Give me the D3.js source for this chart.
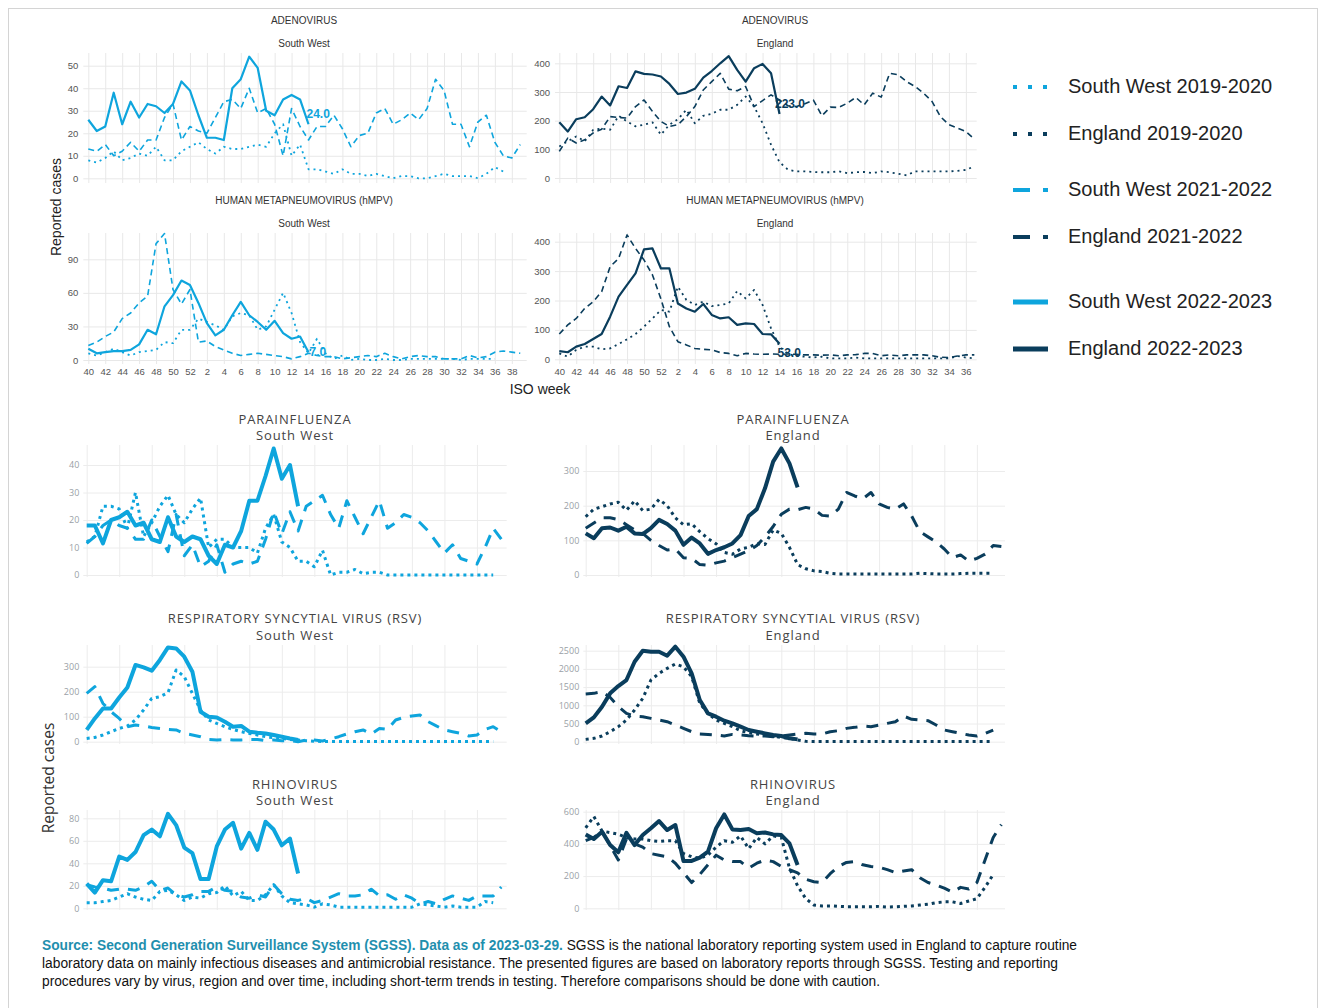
<!DOCTYPE html>
<html>
<head>
<meta charset="utf-8">
<script src="https://cdn.jsdelivr.net/npm/d3@7"></script>
<style>
  body { margin: 0; background: #fff; }
  svg { display: block; }
</style>
</head>
<body>
<div id="chart"></div>
<script>
// ISO weeks, season runs from week 40 to week 39
const isoWeeks = [40,41,42,43,44,45,46,47,48,49,50,51,52,1,2,3,4,5,6,7,8,9,10,11,12,13,14,15,16,17,18,19,20,21,22,23,24,25,26,27,28,29,30,31,32,33,34,35,36,37,38,39];

const legendLabels = ["South West 2019-2020", "England 2019-2020", "South West 2021-2022", "England 2021-2022", "South West 2022-2023", "England 2022-2023"];

// adenovirus
const adenoSW22 = [26,21,23,38,24,34,27,33,32,29,33,43,39,28,18,18,17,40,44,54,49,30,28,35,37,35,24];
const adenoSW21 = [13,12,15,10,12,16,12,17,17,27,33,17,23,21,20,27,34,35,31,40,29,31,24,10,31,23,17,23,23,28,22,14,19,20,29,31,24,26,29,26,31,44,39,24,24,14,25,28,16,10,9,15];
const adenoSW19 = [8,7,9,12,8,9,11,10,14,8,8,12,14,16,13,11,14,13,13,14,15,14,20,24,10,15,4,4,3,2,4,2,2,1,2,1,0,1,1,0,0,1,2,1,1,1,0,2,5,3];
const adenoEN22 = [194,162,205,212,240,284,253,320,314,372,363,361,354,328,293,298,311,350,373,400,425,377,336,383,398,365,223];
const adenoEN21 = [93,139,122,133,157,170,214,211,209,249,272,232,197,180,186,214,249,307,336,365,310,304,319,249,270,290,272,252,249,259,272,217,247,246,261,281,255,296,282,365,360,336,319,296,267,214,186,174,162,136];
const adenoEN19 = [110,128,145,128,168,172,168,217,197,180,186,194,151,186,205,238,191,217,224,238,238,255,284,249,191,116,55,29,23,23,21,20,20,23,17,20,21,17,23,20,15,9,23,23,23,23,23,25,28,41];

// human metapneumovirus
const hmpvSW22 = [10,6,7,8,8,9,14,27,23,48,58,71,67,51,33,22,27,40,52,40,34,27,35,24,19,21,7];
const hmpvSW21 = [13,16,21,25,37,42,51,57,104,113,63,50,63,16,17,12,9,6,4,5,6,5,4,3,1,3,6,4,3,3,1,2,3,4,3,6,3,1,3,4,3,3,1,1,1,4,2,3,7,8,7,6];
const hmpvSW19 = [6,4,7,10,7,4,7,8,9,16,15,27,27,37,34,31,27,39,42,40,27,30,45,60,42,16,6,19,6,1,4,0,1,0,0,1,0,0,1,1,1,1,1,1,0,1,1,1,1];
const hmpvEN22 = [28,24,43,52,69,86,145,213,253,292,374,377,309,309,190,173,162,188,151,139,143,117,122,120,86,85,53];
const hmpvEN21 = [86,117,139,173,196,230,315,343,423,377,338,287,205,111,60,49,37,34,32,23,20,12,20,18,17,18,17,18,17,15,15,14,15,12,15,16,20,20,12,15,12,15,15,15,12,7,6,11,15,15];
const hmpvEN19 = [20,9,32,43,43,34,37,52,68,86,111,139,168,162,247,202,185,196,181,185,190,232,207,236,185,105,43,18,11,9,6,9,3,3,3,6,3,3,3,3,3,3,3,3,3,3,3,11,6,3];

// parainfluenza
const paraSW22 = [18,18,11.5,20,21,23,18,19,13,12,21,14,12,14,13,7,4,11,10,16,27,27,36,46,35,40,25];
const paraSW21 = [11.5,14,18,20,18,17,13,13,20,14,8.5,22,7,11,3,5,11,1,4,5,4,5,13,23,15,23,16,25,27,29,22,17,27,21,15,21,27,17,19,22,21,19,16,12,8,11,6,5,4,10,17,13];
const paraSW19 = [12,14,25,25,24,17,30,14,19,25,29,22,19,24,28,10,13,13,10,10,10,8,17,22,12,10,5,5,3,9,0,1,1,2,0.5,1,1,0,0,0,0,0,0,0,0,0,0,0,0,0,0];
const paraEN22 = [120,106,135,137,128,139,120,118,135,159,147,128,87,108,91,61,72,80,91,115,170,190,250,327,365,322,253];
const paraEN21 = [135,150,165,165,160,145,130,120,100,85,72,75,50,48,30,28,35,40,50,60,70,85,110,140,175,190,188,195,190,172,170,190,238,228,220,238,205,195,190,205,170,125,110,95,75,50,58,40,48,60,85,82];
const paraEN19 = [168,190,197,205,210,187,214,186,190,218,200,165,145,148,125,105,90,65,60,75,80,90,88,130,120,80,30,18,12,10,5,3,3,3,3,3,3,3,3,3,3,5,4,3,3,3,4,5,5,5,5];

// respiratory syncytial virus
const rsvSW22 = [47,93,133,133,177,217,307,297,284,327,377,373,340,280,120,100,97,80,60,63,40,36,33,27,20,13,7];
const rsvSW21 = [193,220,153,120,93,60,67,63,57,53,49,47,33,27,20,9,7,9,7,7,9,9,4,7,4,4,0,7,7,3,11,20,31,40,47,31,53,49,87,97,103,107,80,63,47,40,33,23,27,49,60,40];
const rsvSW19 = [13,17,27,40,53,63,87,127,173,180,196,287,260,193,127,87,73,60,49,40,33,27,20,16,13,9,7,4,2,1,1,1,1,1,1,1,1,1,1,1,1,1,1,1,1,1,1,1,1,1,1];
const rsvEN22 = [504,668,962,1328,1529,1694,2198,2500,2473,2473,2363,2610,2335,1877,1145,778,687,577,504,412,321,275,229,183,156,92,64];
const rsvEN21 = [1310,1328,1374,1218,962,778,705,687,641,595,550,458,366,275,211,201,183,156,201,183,165,156,156,137,156,183,211,229,211,211,275,302,366,394,430,412,458,504,550,705,614,595,577,458,321,275,229,183,156,229,321];
const rsvEN19 = [64,92,156,275,412,595,870,1190,1694,1877,2015,2134,2060,1786,1053,778,595,504,412,302,247,211,183,156,119,92,46,10,5,5,5,5,5,5,5,5,5,5,5,5,5,5,5,5,5,5,5,5,5,5,5];

// rhinovirus
const rhinoSW22 = [22,14,25,24,46,43,50,65,70,64,84,74,54,49,26,26,55,70,76,53,67,52,77,70,56,62,31];
const rhinoSW21 = [21,19,18,16,17,17,16,19,24,16,18,12,10,12,15,15,19,16,15,10,9,12,10,21,13,8,7,9,5,7,10,13,11,11,12,17,11,12,8,12,9,4,6,4,8,11,9,7,11,11,11,19];
const rhinoSW19 = [5,5,6,7,10,13,10,8,7,15,16,12,7,10,9,13,14,20,11,15,7,7,12,21,11,5,4,3,1,4,3,1,1,1,1,1,1,1,1,1,1,4,3,2,1,2,1,1,1,6,5];
const rhinoEN22 = [459,430,476,393,348,469,393,455,497,542,486,517,294,294,315,352,497,583,490,486,492,466,471,459,455,403,269];
const rhinoEN21 = [420,440,480,390,300,430,400,380,340,330,320,280,220,160,210,270,330,300,290,290,250,280,300,290,260,240,220,180,165,160,215,260,285,290,270,260,255,240,222,232,240,190,160,145,125,100,130,120,160,300,440,520];
const rhinoEN19 = [500,570,480,470,460,440,430,430,420,415,420,420,340,320,310,330,380,420,410,450,370,440,400,450,440,250,140,60,20,15,15,12,10,10,10,10,12,8,10,12,15,20,25,35,40,40,30,45,60,130,210];

const swColor = "#0ea5dd";
const enColor = "#0a3d5c";

const width = 1325, height = 1008;
const svg = d3.select("#chart").append("svg")
    .attr("width", width)
    .attr("height", height);

svg.append("rect")
    .attr("x", 8.5).attr("y", 8.5)
    .attr("width", 1309).attr("height", 1010)
    .attr("fill", "none")
    .attr("stroke", "#d4d4d4");

// two visual styles: the ggplot export on top, the plotly export below
const ggStyle = {
    font: "'Liberation Sans', Arial, sans-serif",
    grid: "#e8e8e8", tickColor: "#555", tickSize: 9.5, yPad: 5,
    titleSize: 10, titleColor: "#333", titleSpacing: 0,
    solid: { w: 2.2, dash: null },
    dash: { w: 1.6, dash: "6,4" },
    dot: { w: 1.8, dash: "2,4" }
};
const plyStyle = {
    font: "'Open Sans', 'DejaVu Sans', sans-serif",
    grid: "#ececec", tickColor: "#9a9fa6", tickSize: 9, yPad: 4,
    titleSize: 13, titleColor: "#444", titleSpacing: 0.9,
    solid: { w: 4, dash: null },
    dash: { w: 3, dash: "12,9" },
    dot: { w: 3, dash: "3,4" }
};

function drawPanel(p, st) {
    let g = svg.append("g");
    let x = d3.scaleLinear()
        .domain([0, isoWeeks.length - 1])
        .range([p.x0, p.x0 + (isoWeeks.length - 1) * p.step]);
    let y = d3.scaleLinear()
        .domain([0, p.yRef])
        .range([p.y0, p.yRefPx]);

    let yAx = g.append("g")
        .attr("transform", `translate(${p.gridL},0)`)
        .call(d3.axisLeft(y)
            .tickValues(p.yTicks)
            .tickSize(-(p.gridR - p.gridL))
            .tickPadding(st.yPad)
            .tickFormat(d3.format("d")));
    yAx.select(".domain").remove();
    yAx.selectAll("line").attr("stroke", st.grid);
    yAx.selectAll("text")
        .attr("fill", st.tickColor)
        .style("font-family", st.font)
        .style("font-size", st.tickSize + "px");

    let xAx = g.append("g")
        .attr("transform", `translate(0,${p.gridB})`)
        .call(d3.axisBottom(x)
            .tickValues(d3.range(0, p.xMax + 1, p.xEvery))
            .tickSize(-(p.gridB - p.gridT))
            .tickPadding(4)
            .tickFormat(i => p.xLabels ? isoWeeks[i] : ""));
    xAx.select(".domain").remove();
    xAx.selectAll("line").attr("stroke", st.grid);
    xAx.selectAll("text")
        .attr("fill", st.tickColor)
        .style("font-family", st.font)
        .style("font-size", st.tickSize + "px");

    let line = d3.line()
        .x((d, i) => x(i))
        .y(d => y(d));

    p.series.forEach(s => {
        g.append("path")
            .datum(s.data)
            .attr("d", line)
            .attr("fill", "none")
            .attr("stroke", p.color)
            .attr("stroke-width", st[s.kind].w)
            .attr("stroke-dasharray", st[s.kind].dash)
            .attr("stroke-linejoin", "round");
    });

    // value of the latest week, printed next to its point
    if (p.label) {
        let cur = p.series.find(s => s.kind === "solid").data;
        let last = cur.length - 1;
        g.append("text")
            .attr("x", x(last) + p.label.dx)
            .attr("y", y(cur[last]) + p.label.dy)
            .attr("dominant-baseline", "middle")
            .attr("fill", p.color)
            .attr("font-weight", "bold")
            .style("font-family", st.font)
            .style("font-size", "12px")
            .text(d3.format(".1f")(cur[last]));
    }

    [[p.title, p.titleY], [p.sub, p.subY]].forEach(([txt, ty]) => {
        g.append("text")
            .attr("x", p.titleX).attr("y", ty)
            .attr("text-anchor", "middle")
            .attr("dominant-baseline", "middle")
            .attr("fill", st.titleColor)
            .style("font-family", st.font)
            .style("font-size", st.titleSize + "px")
            .style("letter-spacing", st.titleSpacing + "px")
            .text(txt);
    });
}

function trio(a19, a21, a22) {
    return [
        { data: a19, kind: "dot" },
        { data: a21, kind: "dash" },
        { data: a22, kind: "solid" }
    ];
}

// ggplot block
const ggSW = { x0: 88.3, step: 8.47, gridL: 83.3, gridR: 526.7, xMax: 50, xEvery: 2, titleX: 304, color: swColor };
const ggEN = { x0: 559.3, step: 8.47, gridL: 555, gridR: 976.7, xMax: 48, xEvery: 2, titleX: 775, color: enColor };

drawPanel(Object.assign({}, ggSW, {
    title: "ADENOVIRUS", sub: "South West", titleY: 21, subY: 44,
    yRef: 50, y0: 178.3, yRefPx: 65.7, yTicks: [0, 10, 20, 30, 40, 50],
    gridT: 53, gridB: 183, xLabels: false,
    series: trio(adenoSW19, adenoSW21, adenoSW22), label: { dx: -2, dy: -9 }
}), ggStyle);
drawPanel(Object.assign({}, ggEN, {
    title: "ADENOVIRUS", sub: "England", titleY: 21, subY: 44,
    yRef: 400, y0: 178, yRefPx: 63.3, yTicks: [0, 100, 200, 300, 400],
    gridT: 53, gridB: 183, xLabels: false,
    series: trio(adenoEN19, adenoEN21, adenoEN22), label: { dx: -4.5, dy: -9 }
}), ggStyle);
drawPanel(Object.assign({}, ggSW, {
    title: "HUMAN METAPNEUMOVIRUS (hMPV)", sub: "South West", titleY: 201, subY: 224,
    yRef: 90, y0: 360, yRefPx: 259.3, yTicks: [0, 30, 60, 90],
    gridT: 233, gridB: 364, xLabels: true,
    series: trio(hmpvSW19, hmpvSW21, hmpvSW22), label: { dx: 1, dy: 0.5 }
}), ggStyle);
drawPanel(Object.assign({}, ggEN, {
    title: "HUMAN METAPNEUMOVIRUS (hMPV)", sub: "England", titleY: 201, subY: 224,
    yRef: 400, y0: 359.3, yRefPx: 241.7, yTicks: [0, 100, 200, 300, 400],
    gridT: 233, gridB: 364, xLabels: true,
    series: trio(hmpvEN19, hmpvEN21, hmpvEN22), label: { dx: -2, dy: 10 }
}), ggStyle);

svg.append("text")
    .attr("transform", "translate(57,207) rotate(-90)")
    .attr("text-anchor", "middle")
    .attr("dominant-baseline", "middle")
    .attr("fill", "#222")
    .style("font-family", ggStyle.font)
    .style("font-size", "14px")
    .text("Reported cases");
svg.append("text")
    .attr("x", 540).attr("y", 390)
    .attr("text-anchor", "middle")
    .attr("dominant-baseline", "middle")
    .attr("fill", "#222")
    .style("font-family", ggStyle.font)
    .style("font-size", "14px")
    .text("ISO week");

// plotly block
const plySW = { x0: 86.7, step: 8.13, gridL: 83.3, gridR: 506.7, xMax: 48, xEvery: 4, titleX: 295, color: swColor, xLabels: false };
const plyEN = { x0: 585.7, step: 8.15, gridL: 583.3, gridR: 1005, xMax: 48, xEvery: 4, titleX: 793, color: enColor, xLabels: false };

drawPanel(Object.assign({}, plySW, {
    title: "PARAINFLUENZA", sub: "South West", titleY: 421, subY: 437,
    yRef: 40, y0: 575, yRefPx: 465, yTicks: [0, 10, 20, 30, 40],
    gridT: 445, gridB: 577, series: trio(paraSW19, paraSW21, paraSW22)
}), plyStyle);
drawPanel(Object.assign({}, plyEN, {
    title: "PARAINFLUENZA", sub: "England", titleY: 421, subY: 437,
    yRef: 300, y0: 575, yRefPx: 471, yTicks: [0, 100, 200, 300],
    gridT: 445, gridB: 577, series: trio(paraEN19, paraEN21, paraEN22)
}), plyStyle);
drawPanel(Object.assign({}, plySW, {
    title: "RESPIRATORY SYNCYTIAL VIRUS (RSV)", sub: "South West", titleY: 620, subY: 637,
    yRef: 300, y0: 741.7, yRefPx: 666.7, yTicks: [0, 100, 200, 300],
    gridT: 645, gridB: 744, series: trio(rsvSW19, rsvSW21, rsvSW22)
}), plyStyle);
drawPanel(Object.assign({}, plyEN, {
    title: "RESPIRATORY SYNCYTIAL VIRUS (RSV)", sub: "England", titleY: 620, subY: 637,
    yRef: 2500, y0: 741.7, yRefPx: 650.7, yTicks: [0, 500, 1000, 1500, 2000, 2500],
    gridT: 645, gridB: 744, series: trio(rsvEN19, rsvEN21, rsvEN22)
}), plyStyle);
drawPanel(Object.assign({}, plySW, {
    title: "RHINOVIRUS", sub: "South West", titleY: 786, subY: 802,
    yRef: 80, y0: 908.3, yRefPx: 818.3, yTicks: [0, 20, 40, 60, 80],
    gridT: 810, gridB: 910, series: trio(rhinoSW19, rhinoSW21, rhinoSW22)
}), plyStyle);
drawPanel(Object.assign({}, plyEN, {
    title: "RHINOVIRUS", sub: "England", titleY: 786, subY: 802,
    yRef: 600, y0: 908.3, yRefPx: 811.7, yTicks: [0, 200, 400, 600],
    gridT: 810, gridB: 910, series: trio(rhinoEN19, rhinoEN21, rhinoEN22)
}), plyStyle);

svg.append("text")
    .attr("transform", "translate(50,778) rotate(-90)")
    .attr("text-anchor", "middle")
    .attr("dominant-baseline", "middle")
    .attr("fill", "#333")
    .style("font-family", plyStyle.font)
    .style("font-size", "15.5px")
    .text("Reported cases");

// legend
const legendKinds = ["dot", "dot", "dash", "dash", "solid", "solid"];
const legendY = [88, 135, 191, 238, 303, 350];
const legendDash = { dot: "4,11", dash: "17,13", solid: null };
let legend = svg.append("g");
legendLabels.forEach((lab, i) => {
    let col = lab.startsWith("South") ? swColor : enColor;
    legend.append("line")
        .attr("x1", 1013).attr("x2", 1048)
        .attr("y1", legendY[i] - 1).attr("y2", legendY[i] - 1)
        .attr("stroke", col)
        .attr("stroke-width", legendKinds[i] === "solid" ? 5 : 4)
        .attr("stroke-dasharray", legendDash[legendKinds[i]]);
    legend.append("text")
        .attr("x", 1068).attr("y", legendY[i])
        .attr("dominant-baseline", "middle")
        .attr("fill", "#222")
        .style("font-family", ggStyle.font)
        .style("font-size", "20px")
        .text(lab);
});

// source note
const noteFont = "'Liberation Sans', Arial, sans-serif";
let n1 = svg.append("text")
    .attr("x", 42).attr("y", 950)
    .attr("textLength", 1035).attr("lengthAdjust", "spacingAndGlyphs")
    .style("font-family", noteFont).style("font-size", "14px");
n1.append("tspan")
    .attr("fill", "#1f8fae").attr("font-weight", "bold")
    .text("Source: Second Generation Surveillance System (SGSS). Data as of 2023-03-29.");
n1.append("tspan")
    .attr("fill", "#111")
    .text(" SGSS is the national laboratory reporting system used in England to capture routine");
svg.append("text")
    .attr("x", 42).attr("y", 968)
    .attr("textLength", 1016).attr("lengthAdjust", "spacingAndGlyphs")
    .attr("fill", "#111")
    .style("font-family", noteFont).style("font-size", "14px")
    .text("laboratory data on mainly infectious diseases and antimicrobial resistance. The presented figures are based on laboratory reports through SGSS. Testing and reporting");
svg.append("text")
    .attr("x", 42).attr("y", 986)
    .attr("textLength", 838).attr("lengthAdjust", "spacingAndGlyphs")
    .attr("fill", "#111")
    .style("font-family", noteFont).style("font-size", "14px")
    .text("procedures vary by virus, region and over time, including short-term trends in testing. Therefore comparisons should be done with caution.");
</script>
</body>
</html>
